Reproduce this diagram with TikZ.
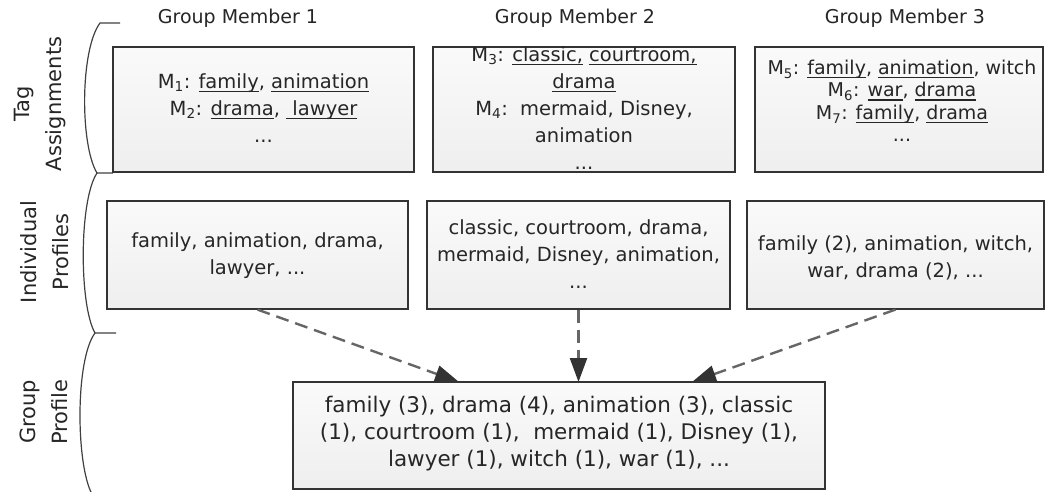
\documentclass[tikz,border=0pt]{standalone}
\usepackage{fontspec}
\setmainfont{DejaVu Sans}
\usetikzlibrary{arrows.meta}
\newcommand\ulw[1]{\setbox0\hbox{#1}\rlap{\rule[-3.6pt]{\wd0}{1.1pt}}\box0\relax}
\newcommand\Ms[1]{M\textsubscript{#1}}
\begin{document}
\begin{tikzpicture}[x=1pt,y=-1pt,
  boxshape/.style={draw=black!80, line width=1.2pt, top color=gray!4, bottom color=gray!13, inner sep=0pt, anchor=center},
  boxtext/.style={align=center, inner sep=0pt, font=\fontsize{19.5}{27}\selectfont, text=black!85},
  header/.style={font=\fontsize{19}{22}\selectfont, text=black!85, inner sep=0pt},
  rowlabel/.style={rotate=90, align=center, font=\fontsize{21}{32}\selectfont, text=black!85, inner sep=0pt},
  bracket/.style={draw=black!75, line width=1.2pt},
  flow/.style={draw=black!60, line width=2.4pt, dash pattern=on 13pt off 7pt, -{Triangle[length=24pt,width=17pt,color=black!80]}}]
\useasboundingbox (0,0) rectangle (1045,492);
% headers
\node[header] (h1) at (238,18) {Group Member 1};
\node[header] (h2) at (575,18) {Group Member 2};
\node[header] (h3) at (905,18) {Group Member 3};
% row labels
\node[rowlabel] (l1) at (40,104) {Tag\\Assignments};
\node[rowlabel] (l2) at (45,252) {Individual\\Profiles};
\node[rowlabel] (l3) at (44,412) {Group\\Profile};
% brackets
\draw[bracket] (120,23) -- (100,23) .. controls (80,50) and (80,145) .. (97,173) -- (113,173);
\draw[bracket] (97,173) .. controls (79,200) and (79,305) .. (95,333) -- (116,333);
\draw[bracket] (95,333) .. controls (75,360) and (76,465) .. (92,494);
% tag assignment boxes
\node[boxshape, minimum width=301pt, minimum height=125pt] (ta1) at (263.5,109.5) {};
\node[boxshape, minimum width=302pt, minimum height=125pt] (ta2) at (584,109.5) {};
\node[boxshape, minimum width=288pt, minimum height=125pt] (ta3) at (899,109.5) {};
\node[boxtext] (tt1) at (263.5,108) {\Ms{1}: \ulw{family}, \ulw{animation}\\ \Ms{2}: \ulw{drama}, \ulw{\ lawyer}\\ ...};
\node[boxtext] (tt2) at (584,108) {\Ms{3}: \ulw{classic,} \ulw{courtroom,}\\ \ulw{drama}\\ \Ms{4}:\ \ mermaid, Disney,\\ animation\\ ...};
\node[boxtext, font=\fontsize{19}{22.5}\selectfont] (tt3) at (902,101) {\Ms{5}: \ulw{family}, \ulw{animation}, witch\\ \Ms{6}: \ulw{war}, \ulw{drama}\\ \Ms{7}: \ulw{family}, \ulw{drama}\\ ...};
% individual profile boxes
\node[boxshape, minimum width=301pt, minimum height=108pt] (ip1) at (257.5,255) {};
\node[boxshape, minimum width=303pt, minimum height=108pt] (ip2) at (578.5,255) {};
\node[boxshape, minimum width=297pt, minimum height=108pt] (ip3) at (895.5,255) {};
\node[boxtext] (it1) at (257.5,256) {family, animation, drama,\\ lawyer, ...};
\node[boxtext] (it2) at (578.5,254) {classic, courtroom, drama,\\ mermaid, Disney, animation,\\ ...};
\node[boxtext] (it3) at (895.5,258) {family (2), animation, witch,\\ war, drama (2), ...};
% group profile
\coordinate (g1) at (459,382);
\coordinate (g3) at (692,382);
\coordinate (g2) at (578.5,382);
\draw[flow] (ip1.south) -- (g1);
\draw[flow] (ip2.south) -- (g2);
\draw[flow] (ip3.south) -- (g3);
\node[boxshape, minimum width=532pt, minimum height=107pt] (gp) at (559,435.5) {};
\node[boxtext, font=\fontsize{21.5}{27}\selectfont] (gt) at (559,434) {family (3), drama (4), animation (3), classic\\ (1), courtroom (1),\ \ mermaid (1), Disney (1),\\ lawyer (1), witch (1), war (1), ...};
\end{tikzpicture}
\end{document}
